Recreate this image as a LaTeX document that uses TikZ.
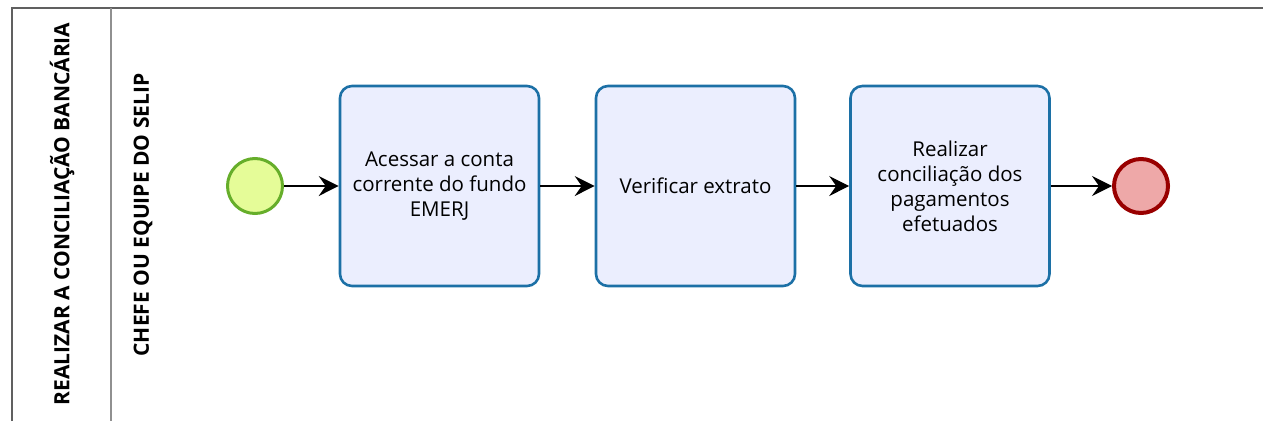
\documentclass[tikz,border=0pt]{standalone}
\usepackage{fontspec}
\setmainfont{Open Sans}
\usetikzlibrary{arrows.meta}

\definecolor{taskline}{HTML}{1C70A6}
\definecolor{taskfill}{HTML}{EBEEFE}
\definecolor{startline}{HTML}{66AE2A}
\definecolor{startfill}{HTML}{E5FC98}
\definecolor{endline}{HTML}{990000}
\definecolor{endfill}{HTML}{EEA8A8}
\definecolor{laneline}{HTML}{606060}

\tikzset{
  task/.style={draw=taskline, fill=taskfill, line width=2.6pt, rounded corners=12pt,
    minimum width=199pt, minimum height=200pt, align=center,
    font=\fontsize{20.5}{25}\selectfont},
  startev/.style={circle, draw=startline, fill=startfill, line width=3pt, minimum size=55pt},
  endev/.style={circle, draw=endline, fill=endfill, line width=4pt, minimum size=54pt},
  lanetext/.style={rotate=90, font=\fontsize{21}{24}\selectfont\bfseries},
  flow/.style={line width=1.3pt, -{Stealth[length=20pt,width=20pt,inset=7pt]}}
}

\begin{document}
\begin{tikzpicture}[x=1pt,y=-1pt]
	\useasboundingbox (0,0) rectangle (1263,421);

	% pool and lane
	\draw[laneline, line width=2pt] (12,421)--(12,8)--(1263,8);
	\draw[laneline!70, line width=2pt] (111,8)--(111,421);
	\node[lanetext] (pool) at (62,214) {REALIZAR A CONCILIAÇÃO BANCÁRIA};
	\node[lanetext] (lane) at (143,215) {CHEFE OU EQUIPE DO SELIP};

	% events and tasks
	\node[startev] (S) at (255,186) {};
	\node[task] (T1) at (439.5,186) {Acessar a conta\\corrente do fundo\\EMERJ};
	\node[task] (T2) at (695.5,186) {Verificar extrato};
	\node[task] (T3) at (950,186) {Realizar\\conciliação dos\\pagamentos\\efetuados};
	\node[endev] (E) at (1141,186) {};

	\foreach \a/\b in {S/T1,T1/T2,T2/T3,T3/E}
		\draw[flow] (\a)--(\b);
\end{tikzpicture}
\end{document}
